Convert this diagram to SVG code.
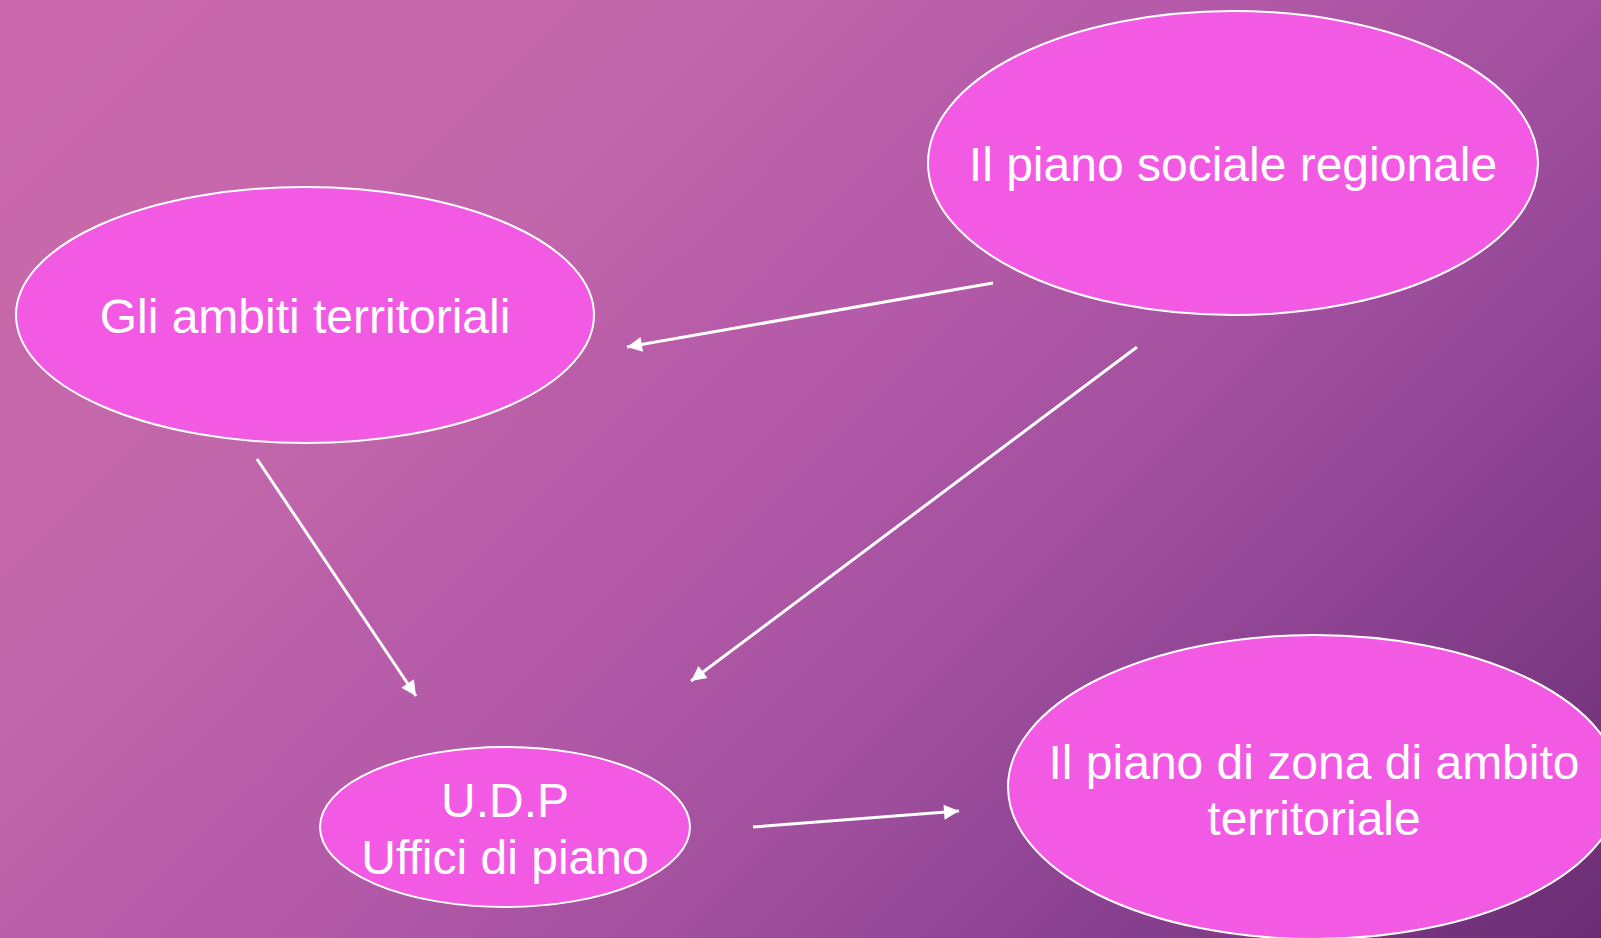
<svg xmlns="http://www.w3.org/2000/svg" width="1601" height="938" viewBox="0 0 1601 938">
<defs>
<linearGradient id="bg" gradientUnits="userSpaceOnUse" x1="0" y1="0" x2="1269.5" y2="1269.5">
<stop offset="0" stop-color="#cb6aab"/>
<stop offset="0.315" stop-color="#c065aa"/>
<stop offset="0.37" stop-color="#ba5ea8"/>
<stop offset="0.47" stop-color="#b45aa8"/>
<stop offset="0.63" stop-color="#a2509f"/>
<stop offset="0.76" stop-color="#8e4493"/>
<stop offset="1" stop-color="#6a2d74"/>
</linearGradient>
<marker id="ah" viewBox="0 0 10 10" refX="10" refY="5" markerWidth="6" markerHeight="5" markerUnits="strokeWidth" orient="auto">
<path d="M0,0 L10,5 L0,10 Z" fill="#ffffff"/>
</marker>
<style>
.node ellipse{fill:#f35ae4;stroke:#ffffff;stroke-width:2}
.node text{font-family:"Liberation Sans",Arial,sans-serif;font-size:48px;fill:#ffffff;text-anchor:middle}
.conn line{stroke:#ffffff;stroke-width:3;marker-end:url(#ah)}
</style>
</defs>
<rect x="0" y="0" width="1601" height="938" fill="url(#bg)"/>
<g id="n-regionale" class="node">
<ellipse cx="1233" cy="163" rx="305" ry="152"/>
<text x="1233" y="181">Il piano sociale regionale</text>
</g>
<g id="n-ambiti" class="node">
<ellipse cx="305" cy="315" rx="289" ry="128"/>
<text x="305" y="333">Gli ambiti territoriali</text>
</g>
<g id="n-udp" class="node">
<ellipse cx="505" cy="827" rx="185" ry="80"/>
<text x="505" y="817">U.D.P</text>
<text x="505" y="874">Uffici di piano</text>
</g>
<g id="n-zona" class="node">
<ellipse cx="1314" cy="787" rx="306" ry="152"/>
<text x="1314" y="779">Il piano di zona di ambito</text>
<text x="1314" y="835">territoriale</text>
</g>
<g id="connectors" class="conn">
<line x1="993" y1="283" x2="627" y2="347"/>
<line x1="257" y1="459" x2="416" y2="696"/>
<line x1="1137" y1="347" x2="691" y2="681"/>
<line x1="753" y1="827" x2="959" y2="811"/>
</g>
</svg>
